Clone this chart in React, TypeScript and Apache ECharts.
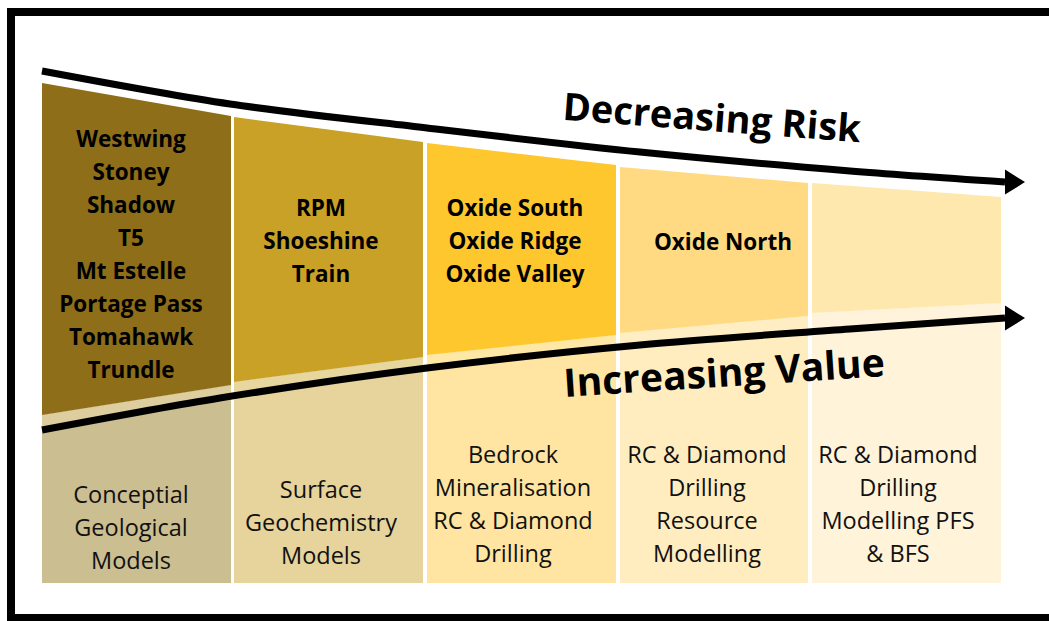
import React, { useEffect, useRef } from "react";
import * as echarts from "echarts";

// ---- data ----
const upperLabels: string[][] = [
  ["Westwing", "Stoney", "Shadow", "T5", "Mt Estelle", "Portage Pass", "Tomahawk", "Trundle"],
  ["RPM", "Shoeshine", "Train"],
  ["Oxide South", "Oxide Ridge", "Oxide Valley"],
  ["Oxide North"],
  [],
];
const lowerLabels: string[][] = [
  ["Conceptial", "Geological", "Models"],
  ["Surface", "Geochemistry", "Models"],
  ["Bedrock", "Mineralisation", "RC & Diamond", "Drilling"],
  ["RC & Diamond", "Drilling", "Resource", "Modelling"],
  ["RC & Diamond", "Drilling", "Modelling PFS", "& BFS"],
];
const upperColors = ["#8E6E18", "#C9A126", "#FFC72E", "#FFDA82", "#FFE8AE"];
const lowerColors = ["#CBBE91", "#E6D49C", "#FFE5A1", "#FFEDC0", "#FFF3DA"];
const stripColors = ["#DDCD9F", "#E8D69F", "#FFE7A6", "#FFEEC4", "#FFF3DC"];

// column outlines (x range, top edge y, split edge y)
const colLeft = [42, 234, 427, 620, 812];
const colRight = [231, 423, 616, 808, 1001];
const topEdge = [[83, 116], [117, 142], [143, 165], [167, 183], [183, 197]];
const splitEdge = [[415, 385], [382, 357], [355, 335], [333, 316], [313, 303]];
const bottomEdge = 583;

// arrows
const riskCurve = [[42, 71], [230, 104], [427, 128], [640, 152], [850, 171], [1005, 182]];
const valueCurve = [[42, 430], [220, 398], [427, 368], [640, 345], [850, 329], [1005, 318]];
const arrowHeads = [[1005, 182, 1025, 182], [1005, 318, 1025, 318]];

const titles = ["Decreasing Risk", "Increasing Value"];

// ---- layout ----
const upperTextCenter = [[131, 254], [321, 240], [515, 240], [723, 241], [906, 240]];
const lowerTextCenter = [[131, 527], [321, 522], [513, 503], [707, 503], [898, 503]];
const FONT = "'Open Sans', Lato, sans-serif";

export default function App() {
  const ref = useRef<HTMLDivElement>(null);
  useEffect(() => {
    const chart = echarts.init(ref.current!, null, { renderer: "svg" });
    const columnData = colLeft.map((_, i) => i);
    chart.setOption({
      animation: false,
      backgroundColor: "#fff",
      grid: { left: 0, right: 0, top: 0, bottom: 0 },
      xAxis: { type: "value", min: 0, max: 1049, show: false },
      yAxis: { type: "value", min: 0, max: 621, inverse: true, show: false },
      graphic: [
        {
          type: "rect",
          shape: { x: 11, y: 12, width: 1100, height: 606 },
          style: { fill: "none", stroke: "#000", lineWidth: 8 },
          z: 100,
        },
        {
          type: "text",
          x: 712,
          y: 116,
          rotation: -0.075,
          style: {
            text: titles[0],
            font: `bold 38px ${FONT}`,
            fill: "#000",
            align: "center",
            verticalAlign: "middle",
          },
          z: 100,
        },
        {
          type: "text",
          x: 724,
          y: 371,
          rotation: 0.065,
          style: {
            text: titles[1],
            font: `bold 39px ${FONT}`,
            fill: "#000",
            align: "center",
            verticalAlign: "middle",
          },
          z: 100,
        },
      ],
      series: [
        {
          type: "custom",
          coordinateSystem: "cartesian2d",
          data: columnData,
          z: 1,
          renderItem: (params: any, api: any) => {
            const i = params.dataIndex;
            const p = (x: number, y: number) => api.coord([x, y]);
            const x0 = colLeft[i], x1 = colRight[i];
            const [t0, t1] = topEdge[i];
            const [s0, s1] = splitEdge[i];
            const children: any[] = [
              {
                type: "polygon",
                shape: { points: [p(x0, s0), p(x1, s1), p(x1, bottomEdge), p(x0, bottomEdge)] },
                style: { fill: lowerColors[i] },
              },
              {
                type: "polygon",
                shape: { points: [p(x0, s0), p(x1, s1), p(x1, s1 + 15), p(x0, s0 + 15)] },
                style: { fill: stripColors[i] },
              },
              {
                type: "polygon",
                shape: { points: [p(x0, t0), p(x1, t1), p(x1, s1), p(x0, s0)] },
                style: { fill: upperColors[i] },
              },
            ];
            if (upperLabels[i].length) {
              const c = p(upperTextCenter[i][0], upperTextCenter[i][1]);
              children.push({
                type: "text",
                style: {
                  text: upperLabels[i].join("\n"),
                  x: c[0],
                  y: c[1],
                  align: "center",
                  verticalAlign: "middle",
                  font: `bold 22.5px ${FONT}`,
                  lineHeight: 33,
                  fill: "#000",
                },
              });
            }
            const d = p(lowerTextCenter[i][0], lowerTextCenter[i][1]);
            children.push({
              type: "text",
              style: {
                text: lowerLabels[i].join("\n"),
                x: d[0],
                y: d[1],
                align: "center",
                verticalAlign: "middle",
                font: `23.5px ${FONT}`,
                lineHeight: 33,
                fill: "#111",
              },
            });
            return { type: "group", children };
          },
        },
        {
          type: "line",
          data: riskCurve,
          smooth: 0.3,
          symbol: "none",
          lineStyle: { color: "#000", width: 7 },
          z: 5,
        },
        {
          type: "line",
          data: valueCurve,
          smooth: 0.3,
          symbol: "none",
          lineStyle: { color: "#000", width: 7 },
          z: 5,
        },
        {
          type: "custom",
          coordinateSystem: "cartesian2d",
          data: arrowHeads,
          z: 6,
          renderItem: (params: any, api: any) => {
            const base = api.coord([api.value(0), api.value(1)]);
            const tip = api.coord([api.value(2), api.value(3)]);
            return {
              type: "polygon",
              shape: {
                points: [tip, [base[0], base[1] - 12.5], [base[0], base[1] + 12.5]],
              },
              style: { fill: "#000" },
            };
          },
        },
      ],
    });
    return () => chart.dispose();
  }, []);
  return (
    <div
      ref={ref}
      style={{ position: "absolute", left: 0, top: 0, width: 1049, height: 621 }}
    />
  );
}
